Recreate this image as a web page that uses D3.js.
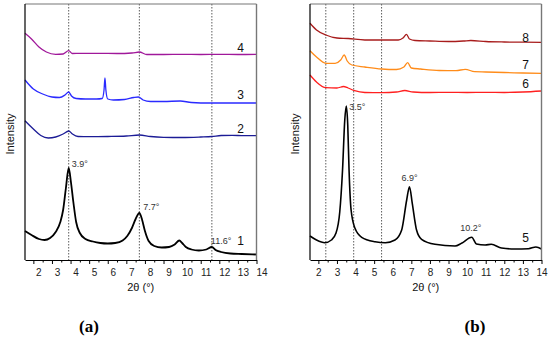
<!DOCTYPE html>
<html>
<head>
<meta charset="utf-8">
<script src="https://cdnjs.cloudflare.com/ajax/libs/d3/7.8.5/d3.min.js"></script>
<style>
  body { margin: 0; background: #fff; }
  svg { display: block; font-family: "Liberation Sans", Arial, sans-serif; }
</style>
</head>
<body>
<script>
// x: 2theta (deg), y: intensity (arbitrary units)
var curve1 = [[1.55,29],[1.9,25],[2.3,21],[2.6,20],[2.9,22],[3.2,28],[3.45,38],[3.6,50],[3.75,72],[3.9,92],[4.02,78],[4.15,58],[4.3,38],[4.5,27],[4.8,21],[5.2,18.5],[5.6,17],[6.0,16.5],[6.4,17],[6.8,19.5],[7.05,24],[7.3,32],[7.5,41],[7.7,47],[7.85,40],[8.0,29],[8.2,19],[8.5,14],[8.9,12.5],[9.3,13],[9.6,15.5],[9.85,19.5],[10.0,17],[10.2,13],[10.5,10.5],[10.9,9.5],[11.3,10.5],[11.6,13],[11.8,10],[12.1,8],[12.6,6.5],[13.2,6],[14,5.5]];
var curve2 = [[1.55,139.3],[2.0,131],[2.4,124.5],[2.8,122],[3.2,123],[3.6,126],[3.9,129],[4.1,126],[4.4,123.5],[5,123.3],[6,123.5],[7,124],[7.7,125],[8.3,123.5],[9,122.7],[10,122.5],[11,123],[11.6,123.5],[12.1,124.5],[12.7,124.7],[13.3,124.3],[14,124.3]];
var curve3 = [[1.55,180],[2.0,171],[2.5,166],[3.0,163],[3.4,162.5],[3.7,165],[3.9,168],[4.05,164],[4.3,161.5],[4.8,161],[5.4,161],[5.7,161.5],[5.8,170],[5.85,182],[5.9,170],[6.0,161],[6.3,160],[6.9,160.5],[7.4,162.5],[7.65,163],[7.9,160],[8.3,158.5],[9.0,158.5],[9.9,159],[10.5,157.5],[11.5,157],[12.5,157],[14,157]];
var curve4 = [[1.55,226.7],[1.9,221],[2.3,213],[2.7,208],[3.2,205.7],[3.6,206],[3.9,209.3],[4.1,206.5],[4.5,206.7],[5.5,206.7],[6.5,206.5],[7.3,207],[7.7,208],[8.1,205.5],[9,205.5],[10,205.7],[11,205.5],[12,205.7],[13,205.5],[14,205.7]];

var curve5 = [[1.55,24],[1.9,20],[2.35,17.3],[2.7,20],[2.95,27],[3.15,48],[3.3,90],[3.42,140],[3.5,154],[3.58,135],[3.65,90],[3.76,50],[3.97,31.7],[4.33,22.7],[5.05,18.3],[5.6,17.3],[6.12,20],[6.48,30],[6.75,60],[6.9,73.3],[7.05,56.7],[7.28,30],[7.55,20.7],[8.27,15.7],[9.35,14],[9.7,16.7],[10.25,22.7],[10.5,16],[10.97,15],[11.3,15.7],[11.85,12],[12.57,11],[13.3,11.3],[13.7,13],[14,11]];
var curve6 = [[1.55,185],[1.9,178],[2.4,172.3],[3.0,172],[3.35,173.5],[3.6,172],[3.95,169.3],[4.5,167.5],[5.4,167.3],[6.2,168],[6.65,169.5],[7.1,168],[8,167.5],[9,167.7],[10,167.5],[11,167.7],[12,167.5],[13,168],[14,169]];
var curve7 = [[1.55,209.3],[1.9,203],[2.4,196.7],[2.9,196.7],[3.2,200],[3.39,205],[3.55,199],[3.8,195],[4.5,193],[5.4,191],[6.2,190.5],[6.6,193],[6.8,197.3],[7.0,192],[7.5,191],[8.5,189.5],[9.4,189.3],[9.9,190.7],[10.4,188.3],[11,188],[12,187.5],[13,187],[14,186.7]];
var curve8 = [[1.55,236.7],[1.9,230],[2.4,225],[3.0,222],[3.6,221.5],[4.5,220],[5.5,220],[6.3,220],[6.55,222],[6.74,225.7],[6.9,221],[7.2,219.5],[8,219],[9,218.5],[9.8,219],[10.2,219.5],[11,218.5],[12,218],[13,217.8],[14,217.7]];

var xTicks = [2,3,4,5,6,7,8,9,10,11,12,13,14];
var dropsA = [3.9, 7.7, 11.6];
var dropsB = [2.4, 3.9, 5.4];

var panelA = {
    left: 25, right: 256.5, labelDx: 5, caption: '(a)', capX: 89, drops: dropsA,
    series: [
        {data: curve1, color: '#000000', width: 1.8, label: '1', ly: 19},
        {data: curve2, color: '#1c1c96', width: 1.3, label: '2', ly: 131},
        {data: curve3, color: '#2a2aff', width: 1.3, label: '3', ly: 165},
        {data: curve4, color: '#a0189a', width: 1.3, label: '4', ly: 212.7}
    ],
    notes: [
        {x: 3.9, y: 92, text: '3.9°', dx: 3, dy: -1, anchor: 'start'},
        {x: 7.7, y: 47, text: '7.7°', dx: 4, dy: -3, anchor: 'start'},
        {x: 11.6, y: 13, text: '11.6°', dx: -1, dy: -3, anchor: 'start'}
    ]
};

var panelB = {
    left: 310, right: 541.5, labelDx: 0, caption: '(b)', capX: 475, drops: dropsB,
    series: [
        {data: curve5, color: '#000000', width: 1.6, label: '5', ly: 22.7},
        {data: curve6, color: '#ff2020', width: 1.3, label: '6', ly: 176},
        {data: curve7, color: '#ff8c1a', width: 1.3, label: '7', ly: 195},
        {data: curve8, color: '#a81c1c', width: 1.3, label: '8', ly: 222.7}
    ],
    notes: [
        {x: 3.5, y: 154, text: '3.5°', dx: 3, dy: 4, anchor: 'start'},
        {x: 6.9, y: 73.3, text: '6.9°', dx: 0, dy: -6, anchor: 'middle'},
        {x: 10.2, y: 22.7, text: '10.2°', dx: 0, dy: -6, anchor: 'middle'}
    ]
};

var svg = d3.select('body').append('svg')
    .attr('width', 550)
    .attr('height', 339);

drawPanel(svg, panelA);
drawPanel(svg, panelB);

function drawPanel(svg, p) {

    var top = 4, bottom = 260;

    var x = d3.scaleLinear().domain([1.55, 14]).range([p.left, p.right]);
    var y = d3.scaleLinear().domain([0, 256]).range([bottom, top]);

    var g = svg.append('g');

    // dotted guide lines
    g.selectAll('line.drop')
        .data(p.drops)
        .enter().append('line')
        .attr('x1', function(d) { return x(d); })
        .attr('x2', function(d) { return x(d); })
        .attr('y1', top)
        .attr('y2', bottom)
        .attr('stroke', '#333')
        .attr('stroke-width', 0.8)
        .attr('stroke-dasharray', '1.5,1.5');

    // curves
    var line = d3.line()
        .x(function(d) { return x(d[0]); })
        .y(function(d) { return y(d[1]); })
        .curve(d3.curveMonotoneX);

    p.series.forEach(function(s) {
        g.append('path')
            .datum(s.data)
            .attr('fill', 'none')
            .attr('stroke', s.color)
            .attr('stroke-width', s.width)
            .attr('stroke-linejoin', 'round')
            .attr('d', line);

        g.append('text')
            .attr('x', p.right - 16)
            .attr('y', y(s.ly))
            .attr('dy', '0.35em')
            .attr('text-anchor', 'middle')
            .attr('font-size', '12px')
            .attr('fill', '#111')
            .text(s.label);
    });

    // peak notes
    g.selectAll('text.note')
        .data(p.notes)
        .enter().append('text')
        .attr('x', function(d) { return x(d.x) + d.dx; })
        .attr('y', function(d) { return y(d.y) + d.dy; })
        .attr('text-anchor', function(d) { return d.anchor; })
        .attr('font-size', '9px')
        .attr('fill', '#333')
        .text(function(d) { return d.text; });

    // frame: top/right in grey
    g.append('line')
        .attr('x1', p.left).attr('x2', p.right)
        .attr('y1', top).attr('y2', top)
        .attr('stroke', '#777').attr('stroke-width', 1.2);
    g.append('line')
        .attr('x1', p.right).attr('x2', p.right)
        .attr('y1', top).attr('y2', bottom)
        .attr('stroke', '#777').attr('stroke-width', 1.4);
    g.append('line')
        .attr('x1', p.left).attr('x2', p.left)
        .attr('y1', top).attr('y2', bottom)
        .attr('stroke', '#000').attr('stroke-width', 1.2);

    // x axis with minor ticks
    var minor = d3.range(2.5, 14, 1);
    g.append('g')
        .attr('transform', 'translate(0,' + bottom + ')')
        .call(d3.axisBottom(x).tickValues(minor).tickSize(2.5).tickFormat(''))
        .call(function(a) { a.select('.domain').remove(); });

    var xAxis = g.append('g')
        .attr('transform', 'translate(0,' + bottom + ')')
        .call(d3.axisBottom(x).tickValues(xTicks).tickSize(4).tickSizeOuter(0).tickPadding(5));
    xAxis.select('.domain').attr('stroke-width', 1.2);
    xAxis.selectAll('.tick text')
        .style('font-size', '10px')
        .style('font-family', '"Liberation Sans", Arial, sans-serif')
        .attr('fill', '#222')
        .attr('dx', p.labelDx);

    var mid = (p.left + p.right) / 2;

    g.append('text')
        .attr('x', mid)
        .attr('y', 291)
        .attr('text-anchor', 'middle')
        .attr('font-size', '11px')
        .attr('fill', '#111')
        .text('2θ (°)');

    g.append('text')
        .attr('text-anchor', 'middle')
        .attr('transform', 'translate(' + (p.left - 11) + ',' + 134 + ')rotate(-90)')
        .attr('font-size', '11px')
        .attr('fill', '#111')
        .text('Intensity');

    g.append('text')
        .attr('x', p.capX)
        .attr('y', 332)
        .attr('text-anchor', 'middle')
        .style('font-size', '17px')
        .style('font-weight', 'bold')
        .style('font-family', '"Liberation Serif", "DejaVu Serif", serif')
        .text(p.caption);
}
</script>
</body>
</html>
